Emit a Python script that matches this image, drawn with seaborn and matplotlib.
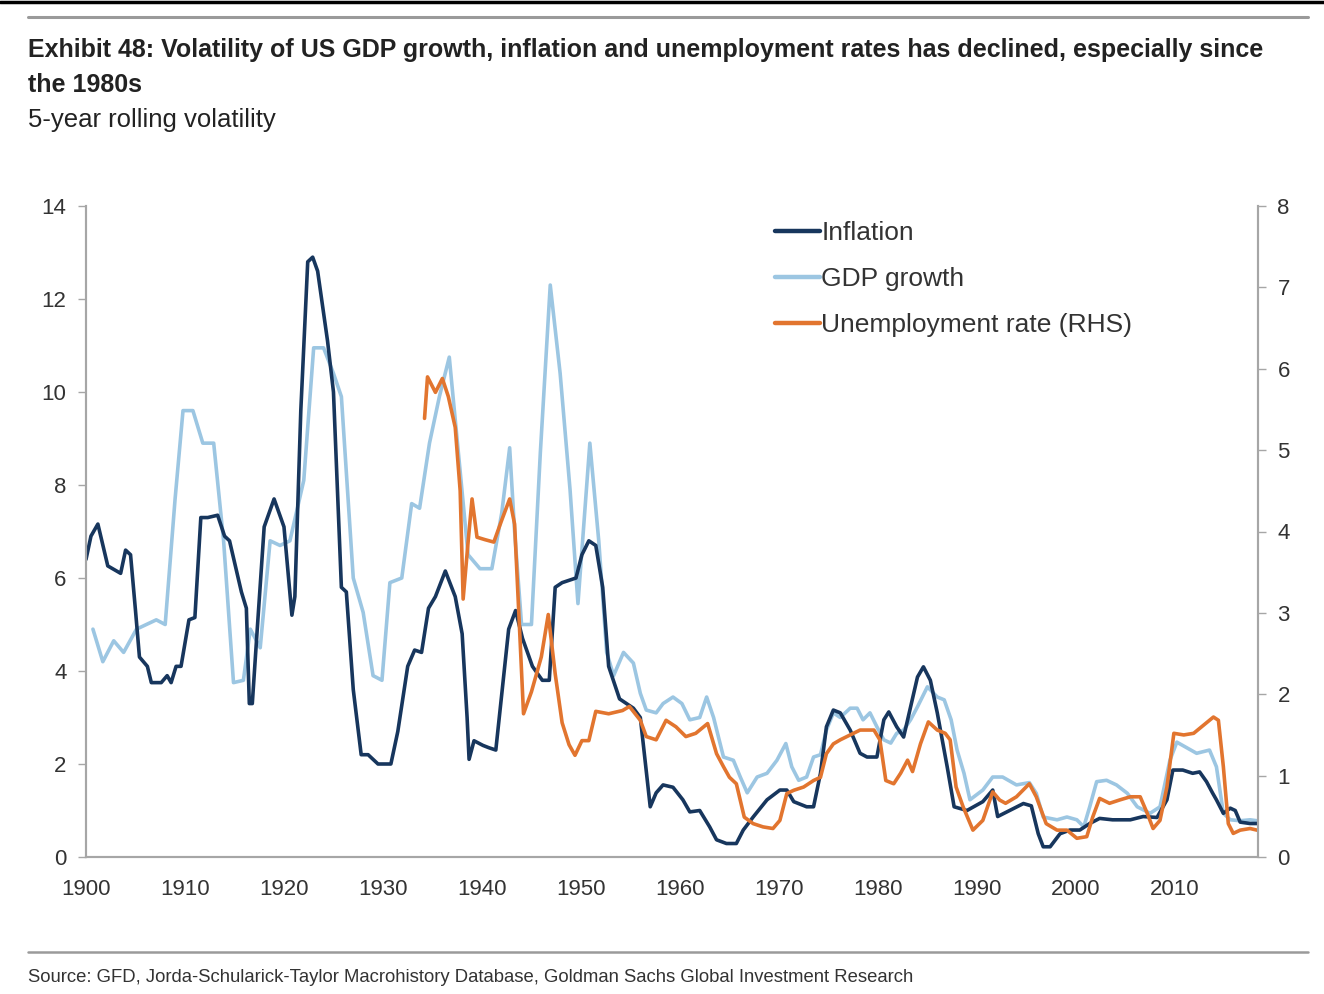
import matplotlib
matplotlib.use("Agg")
import matplotlib.pyplot as plt
from matplotlib.lines import Line2D
import seaborn as sns
import pandas as pd

# --- data ---
infl_years = [1900, 1900.5, 1901.2, 1902.2, 1903.5, 1904, 1904.5, 1905, 1905.4, 1906.2, 1906.6, 1907.6,
              1908.2, 1908.6, 1909.1, 1909.6, 1910.4, 1911, 1911.6, 1912.3, 1913.3, 1914, 1914.5, 1915.7,
              1916.2, 1916.5, 1916.8, 1917.3, 1918, 1919, 1920, 1920.8, 1921.1, 1921.7, 1922.4, 1922.9,
              1923.4, 1924.4, 1925, 1925.8, 1926.3, 1927, 1927.8, 1928.5, 1929.5, 1930.8, 1931.5, 1932.5,
              1933.2, 1933.9, 1934.6, 1935.3, 1936.3, 1937.3, 1938, 1938.5, 1938.7, 1939.2, 1940.1, 1940.7,
              1941.4, 1942, 1942.7, 1943.4, 1944.1, 1945.1, 1946.1, 1946.8, 1947.4, 1948.1, 1949.5, 1950.1,
              1950.8, 1951.5, 1952.2, 1952.8, 1953.9, 1955.3, 1956, 1957, 1957.6, 1958.3, 1959.3, 1960.3,
              1961, 1962, 1963, 1963.7, 1964.7, 1965.7, 1966.4, 1967.4, 1968.8, 1970.1, 1970.8, 1971.5,
              1972.8, 1973.5, 1974.2, 1974.8, 1975.5, 1976.2, 1977.2, 1978.2, 1978.9, 1979.9, 1980.6, 1981.1,
              1981.9, 1982.6, 1983.3, 1984, 1984.6, 1985.3, 1986, 1987, 1987.7, 1989, 1990.6, 1991.6, 1992.1,
              1993.3, 1994.7, 1995.5, 1996.2, 1996.7, 1997.4, 1998.4, 1999.4, 2000.4, 2001.4, 2002.4, 2003.7,
              2005.5, 2006.8, 2008.2, 2009.2, 2009.8, 2010.8, 2011.8, 2012.5, 2013.2, 2013.8, 2014.2, 2014.9,
              2015.6, 2016.1, 2016.6, 2017.6, 2018.3]
infl_vals = [6.4, 6.9, 7.16, 6.26, 6.1, 6.6, 6.5, 5.3, 4.3, 4.1, 3.75, 3.75,
             3.9, 3.75, 4.1, 4.1, 5.1, 5.15, 7.3, 7.3, 7.35, 6.9, 6.8, 5.7,
             5.35, 3.3, 3.3, 4.9, 7.1, 7.7, 7.1, 5.2, 5.6, 9.6, 12.8, 12.9,
             12.6, 11.1, 10.0, 5.8, 5.7, 3.6, 2.2, 2.2, 2.0, 2.0, 2.7, 4.1,
             4.45, 4.4, 5.35, 5.6, 6.15, 5.6, 4.8, 3.0, 2.1, 2.5, 2.4, 2.35,
             2.3, 3.5, 4.9, 5.3, 4.7, 4.1, 3.8, 3.8, 5.8, 5.9, 6.0, 6.5,
             6.8, 6.7, 5.8, 4.1, 3.4, 3.2, 3.0, 1.08, 1.38, 1.55, 1.5, 1.23,
             0.97, 1.0, 0.65, 0.37, 0.29, 0.29, 0.58, 0.86, 1.23, 1.44, 1.44, 1.19,
             1.08, 1.08, 1.8, 2.8, 3.16, 3.1, 2.73, 2.23, 2.15, 2.15, 2.95, 3.12,
             2.8, 2.58, 3.23, 3.87, 4.09, 3.8, 3.1, 1.94, 1.08, 1.0, 1.19, 1.44, 0.87,
             1.0, 1.15, 1.1, 0.5, 0.22, 0.22, 0.5, 0.58, 0.58, 0.72, 0.83, 0.8,
             0.8, 0.87, 0.85, 1.23, 1.87, 1.87, 1.8, 1.83, 1.62, 1.38, 1.23, 0.94,
             1.05, 1.0, 0.75, 0.72, 0.72]

gdp_years = [1900.7, 1901.7, 1902.8, 1903.8, 1905.1, 1906.1, 1907.1, 1908, 1909, 1909.8, 1910.8, 1911.8,
             1912.9, 1913.9, 1914.9, 1915.9, 1916.6, 1917.6, 1918.6, 1919.6, 1920.6, 1922, 1923, 1924,
             1925, 1925.8, 1927, 1928, 1929, 1929.9, 1930.7, 1931.9, 1932.9, 1933.7, 1934.7, 1935.7,
             1936.7, 1937.7, 1938.6, 1939.8, 1941, 1942, 1942.8, 1943.3, 1944, 1945, 1945.9, 1946.9,
             1947.9, 1948.9, 1949.7, 1950.9, 1951.8, 1952.6, 1953.3, 1954.3, 1955.3, 1956, 1956.6, 1957.6,
             1958.3, 1959.3, 1960.2, 1961, 1962, 1962.7, 1963.4, 1964.4, 1965.4, 1966.1, 1966.8, 1967.8,
             1968.8, 1969.8, 1970.7, 1971.3, 1972, 1972.8, 1973.5, 1974.2, 1974.8, 1975.5, 1976.2, 1977.2,
             1977.9, 1978.5, 1979.2, 1979.9, 1980.6, 1981.3, 1981.9, 1982.6, 1983.3, 1984, 1985, 1986,
             1986.7, 1987.4, 1988, 1988.7, 1989.3, 1990.6, 1991.6, 1992.6, 1994, 1995.3, 1996, 1996.7,
             1998.1, 1999.1, 2000.1, 2000.8, 2001.4, 2002.1, 2003.1, 2004.1, 2005.2, 2006.2, 2007.5, 2008.5,
             2009.5, 2010.2, 2011.2, 2012.2, 2013.5, 2014.2, 2014.9, 2015.6, 2016.6, 2017.6, 2018.3]
gdp_vals = [4.9, 4.2, 4.65, 4.4, 4.9, 5.0, 5.1, 5.0, 7.7, 9.6, 9.6, 8.9,
            8.9, 6.8, 3.75, 3.8, 4.9, 4.5, 6.8, 6.7, 6.8, 8.1, 10.95, 10.95,
            10.4, 9.9, 6.0, 5.26, 3.9, 3.8, 5.9, 6.0, 7.6, 7.5, 8.9, 9.9,
            10.75, 8.5, 6.5, 6.2, 6.2, 7.4, 8.8, 7.0, 5.0, 5.0, 8.7, 12.3,
            10.4, 7.9, 5.45, 8.9, 6.8, 4.4, 3.9, 4.4, 4.17, 3.52, 3.16, 3.1,
            3.3, 3.44, 3.3, 2.95, 3.0, 3.44, 3.0, 2.15, 2.08, 1.72, 1.38, 1.72,
            1.8, 2.08, 2.44, 1.94, 1.65, 1.72, 2.15, 2.2, 2.73, 3.1, 3.0, 3.2,
            3.2, 2.95, 3.1, 2.8, 2.52, 2.45, 2.66, 2.73, 2.95, 3.23, 3.66, 3.44,
            3.38, 2.95, 2.3, 1.8, 1.23, 1.44, 1.72, 1.72, 1.55, 1.6, 1.37, 0.86,
            0.8, 0.86, 0.8, 0.65, 1.08, 1.62, 1.65, 1.55, 1.37, 1.08, 0.94, 1.08,
            2.08, 2.47, 2.35, 2.23, 2.3, 1.94, 0.94, 0.8, 0.78, 0.8, 0.78]

unemp_years = [1934.2, 1934.5, 1935.3, 1936, 1936.6, 1937.3, 1937.8, 1938.1, 1938.6, 1939, 1939.5, 1940.3,
               1941.2, 1942, 1942.8, 1943.3, 1943.7, 1944.2, 1945, 1946, 1946.7, 1947.4, 1948.1, 1948.8,
               1949.4, 1950.1, 1950.8, 1951.5, 1952.8, 1954.2, 1954.9, 1956, 1956.6, 1957.6, 1958.6, 1959.6,
               1960.6, 1961.6, 1962.8, 1963.7, 1964.4, 1965, 1965.7, 1966.5, 1967.4, 1968.4, 1969.4, 1970.1,
               1970.8, 1971.5, 1972.5, 1973.5, 1974.2, 1974.8, 1975.5, 1976.2, 1977.2, 1978.2, 1979.6, 1980.2,
               1980.8, 1981.6, 1982.3, 1983, 1983.5, 1984.3, 1985.1, 1986, 1986.8, 1987.3, 1987.9, 1988.6,
               1989.6, 1990.6, 1991.6, 1992.3, 1992.9, 1994, 1995.3, 1996, 1997, 1998.1, 1999.1, 2000.1,
               2001.1, 2001.7, 2002.4, 2003.4, 2004.4, 2005.5, 2006.5, 2007.2, 2007.8, 2008.5, 2009.2, 2009.9,
               2010.9, 2011.9, 2012.9, 2013.9, 2014.4, 2014.9, 2015.4, 2015.9, 2016.6, 2017.6, 2018.3]
unemp_vals = [5.39, 5.9, 5.71, 5.88, 5.66, 5.28, 4.5, 3.17, 3.87, 4.4, 3.93, 3.9,
              3.87, 4.14, 4.4, 4.09, 3.06, 1.76, 2.03, 2.46, 2.98, 2.25, 1.65, 1.38,
              1.25, 1.43, 1.43, 1.79, 1.76, 1.8, 1.85, 1.68, 1.48, 1.44, 1.68, 1.6,
              1.48, 1.52, 1.64, 1.27, 1.11, 0.98, 0.9, 0.49, 0.41, 0.37, 0.35, 0.45,
              0.78, 0.82, 0.86, 0.94, 0.98, 1.27, 1.39, 1.44, 1.5, 1.56, 1.56, 1.44,
              0.94, 0.9, 1.03, 1.19, 1.05, 1.39, 1.66, 1.56, 1.52, 1.44, 0.86, 0.62,
              0.33, 0.45, 0.8, 0.7, 0.66, 0.74, 0.9, 0.74, 0.41, 0.33, 0.33, 0.23,
              0.25, 0.49, 0.72, 0.66, 0.7, 0.74, 0.74, 0.54, 0.35, 0.45, 0.86, 1.52,
              1.5, 1.52, 1.62, 1.72, 1.68, 1.11, 0.41, 0.29, 0.33, 0.35, 0.33]

x_ticks = [1900, 1910, 1920, 1930, 1940, 1950, 1960, 1970, 1980, 1990, 2000, 2010]
left_ticks = [0, 2, 4, 6, 8, 10, 12, 14]
right_ticks = [0, 1, 2, 3, 4, 5, 6, 7, 8]

NAVY = "#17365d"
LIGHT = "#9cc6e2"
ORANGE = "#e2752f"
GRID = "#a6a6a6"
TXT = "#333333"

sns.set_style("white")
plt.rcParams['font.family'] = ['Liberation Sans', 'DejaVu Sans']

fig = plt.figure(figsize=(13.24, 9.94), dpi=100)
ax = fig.add_axes([86 / 1324, 1 - 857 / 994, (1258 - 86) / 1324, (857 - 206) / 994])
ax2 = ax.twinx()

df_i = pd.DataFrame({"year": infl_years, "val": infl_vals})
df_g = pd.DataFrame({"year": gdp_years, "val": gdp_vals})
df_u = pd.DataFrame({"year": unemp_years, "val": unemp_vals})

sns.lineplot(data=df_g, x="year", y="val", ax=ax, color=LIGHT, linewidth=2.6, legend=False)
sns.lineplot(data=df_i, x="year", y="val", ax=ax, color=NAVY, linewidth=2.6, legend=False)
sns.lineplot(data=df_u, x="year", y="val", ax=ax2, color=ORANGE, linewidth=2.6, legend=False)

ax.set_xlim(1900, 2018.4)
ax.set_ylim(0, 14)
ax2.set_ylim(0, 8)
ax.set_xticks(x_ticks)
ax.set_yticks(left_ticks)
ax2.set_yticks(right_ticks)
ax.set_xlabel("")
ax.set_ylabel("")
ax2.set_ylabel("")

for a in (ax, ax2):
    for s in a.spines.values():
        s.set_color(GRID)
        s.set_linewidth(1.5)
    a.spines["top"].set_visible(False)
ax.tick_params(axis="y", direction="out", length=6, width=1, color=GRID, labelsize=16, labelcolor=TXT, pad=8)
ax.tick_params(axis="x", length=0, labelsize=16, labelcolor=TXT, pad=16)
ax2.tick_params(axis="y", direction="out", length=6, width=1, color=GRID, labelsize=16, labelcolor=TXT, pad=8)

handles = [Line2D([], [], color=NAVY, lw=3.2), Line2D([], [], color=LIGHT, lw=3.2), Line2D([], [], color=ORANGE, lw=3.2)]
labels = ["Inflation", "GDP growth", "Unemployment rate (RHS)"]
ax2.legend(handles, labels, loc="upper left", bbox_to_anchor=(0.588, 0.977), frameon=False,
           borderaxespad=0, borderpad=0, fontsize=19, handlelength=1.7, handletextpad=0.05,
           labelspacing=0.83, labelcolor=TXT)

# header / footer
fig.add_artist(Line2D([0, 1], [1 - 1.5 / 994, 1 - 1.5 / 994], color="black", lw=2.5))
fig.add_artist(Line2D([28 / 1324, 1308 / 1324], [1 - 17 / 994, 1 - 17 / 994], color="#9a9a9a", lw=2.2))
fig.add_artist(Line2D([28 / 1324, 1308 / 1324], [1 - 952 / 994, 1 - 952 / 994], color="#9a9a9a", lw=1.8))

fig.text(28 / 1324, 1 - 50 / 994,
         "Exhibit 48: Volatility of US GDP growth, inflation and unemployment rates has declined, especially since",
         fontsize=18, fontweight="bold", color="#222222", va="center")
fig.text(28 / 1324, 1 - 85 / 994, "the 1980s", fontsize=18, fontweight="bold", color="#222222", va="center")
fig.text(28 / 1324, 1 - 120 / 994, "5-year rolling volatility", fontsize=18.5, color="#222222", va="center")
fig.text(28 / 1324, 1 - 977 / 994,
         "Source: GFD, Jorda-Schularick-Taylor Macrohistory Database, Goldman Sachs Global Investment Research",
         fontsize=13.3, color=TXT, va="center")

fig.savefig("out.png", dpi=100, facecolor="white")
